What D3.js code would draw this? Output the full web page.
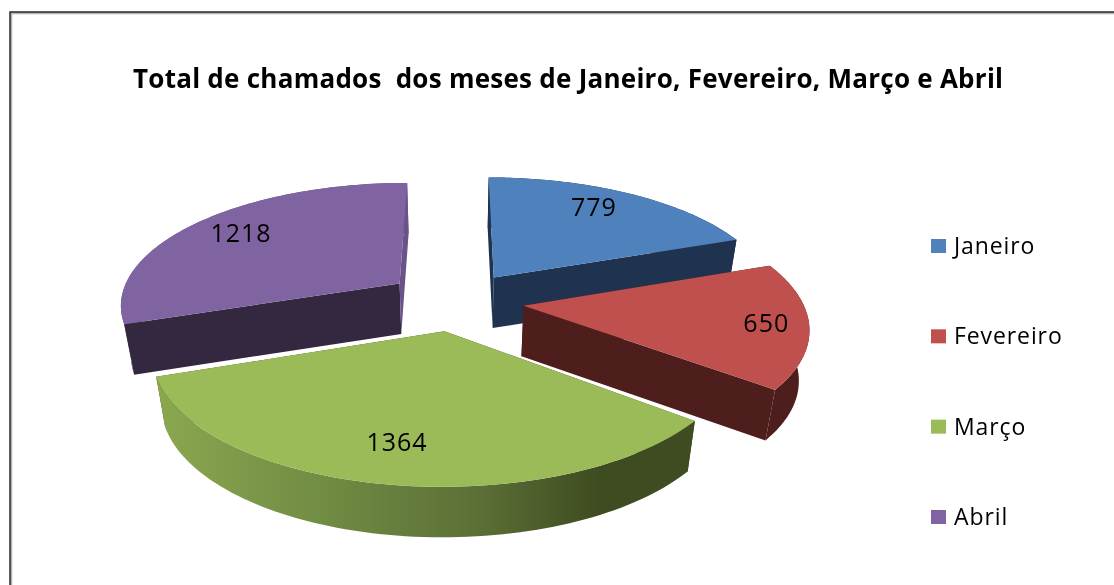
<!DOCTYPE html>
<html>
<head>
<meta charset="utf-8">
<script src="https://cdn.jsdelivr.net/npm/d3@7"></script>
<style>
  body { margin: 0; background: #fff; overflow: hidden; }
  svg { filter: blur(0.35px); }
  text { font-family: "Open Sans", sans-serif; fill: #000; }
</style>
</head>
<body>
<div id="chart"></div>
<script>
/* 3D exploded pie: total de chamados por mes */
const meses = ["Janeiro", "Fevereiro", "Março", "Abril"];
const chamados = [779, 650, 1364, 1218];

const topColors = ["#4F81BD", "#C0504D", "#9BBB59", "#8064A2"];
const wallColors = ["#1F3350", "#4E1E1D", "#3F4B20", "#33283F"];
const rimColors = ["#1F3350", "#4E1E1D", "url(#marco-side)", "#6A5388"];

// per slice tweaks of the drawing, the picture is not a true projection
const sliceRadius = [1, 0.985, 0.98, 0.99];
const sliceExplode = [0.24, 0.24, 0.24, 0.25];
const labelRadius = [0.82, 0.84, 0.74, 0.8];
const labelShift = [-13, 0, -5, 6];

const width = 1114,
  height = 585;

const cx = 456,
  cy = 301,
  radiusX = 283,
  radiusY = 123,
  perspective = 0.16,
  depth = 50.5,
  shrink = 0.03;

const color = d3.scaleOrdinal(meses, topColors);

// world x/y in pie radii (y toward the viewer), z from 0 (top) to 1 (bottom)
function project(x, y, z) {
  const s = 1 / (1 - perspective * y);
  return [
    cx + radiusX * x * s * (1 - shrink * z),
    cy + radiusY * y * s + depth * z
  ];
}

const arcs = d3.pie().sort(null).value(d => d)(chamados);

function pointAt(d, angle, r, z) {
  const mid = (d.startAngle + d.endAngle) / 2;
  const e = sliceExplode[d.index];
  return project(
    e * Math.sin(mid) + r * Math.sin(angle),
    -e * Math.cos(mid) - r * Math.cos(angle),
    z
  );
}

function rim(d, z) {
  const n = 80;
  const r = sliceRadius[d.index];
  return d3.range(n + 1).map(i =>
    pointAt(d, d.startAngle + (d.endAngle - d.startAngle) * i / n, r, z));
}

const line = d3.line();

const svg = d3.select("#chart")
  .append("svg")
  .attr("width", width)
  .attr("height", height);

const grad = svg.append("defs")
  .append("linearGradient")
  .attr("id", "marco-side")
  .attr("gradientUnits", "userSpaceOnUse")
  .attr("x1", 157).attr("x2", 690)
  .attr("y1", 0).attr("y2", 0);
grad.append("stop").attr("offset", "0%").attr("stop-color", "#8BA74F");
grad.append("stop").attr("offset", "30%").attr("stop-color", "#728D44");
grad.append("stop").attr("offset", "60%").attr("stop-color", "#5B7036");
grad.append("stop").attr("offset", "83%").attr("stop-color", "#3F4B20");
grad.append("stop").attr("offset", "100%").attr("stop-color", "#3F4B20");

// frame, open on the right and at the bottom
svg.append("rect")
  .attr("x", 11).attr("y", 13)
  .attr("width", width + 20).attr("height", height + 20)
  .attr("fill", "#fff")
  .attr("stroke", "#b4b4b4")
  .attr("stroke-width", 2.5);
svg.append("rect")
  .attr("x", 10).attr("y", 12)
  .attr("width", width + 20).attr("height", height + 20)
  .attr("fill", "none")
  .attr("stroke", "#2e2e2e")
  .attr("stroke-width", 1.5);

svg.append("text")
  .attr("x", 568)
  .attr("y", 88)
  .attr("text-anchor", "middle")
  .attr("font-size", 26)
  .attr("font-weight", "bold")
  .attr("textLength", 870)
  .attr("xml:space", "preserve")
  .style("white-space", "pre")
  .text("Total de chamados  dos meses de Janeiro, Fevereiro, Março e Abril");

// back slices first, Março last
const drawOrder = [3, 0, 1, 2];
const slices = svg.append("g")
  .selectAll("g")
  .data(drawOrder.map(i => arcs[i]))
  .join("g");

slices.each(function (d) {
  const g = d3.select(this);
  const i = d.index;
  const r = sliceRadius[i];

  const drawRim = () => g.append("path")
    .attr("fill", rimColors[i])
    .attr("d", line(rim(d, 0).concat(rim(d, 1).reverse())) + "Z");

  // Abril shows its cut face in front of the rim, the others behind it
  if (i === 3) drawRim();
  [d.startAngle, d.endAngle].forEach(angle => {
    g.append("path")
      .attr("fill", i === 3 && angle === d.endAngle ? rimColors[i] : wallColors[i])
      .attr("d", line([
        pointAt(d, 0, 0, 0), pointAt(d, angle, r, 0),
        pointAt(d, angle, r, 1), pointAt(d, 0, 0, 1)
      ]) + "Z");
  });
  if (i !== 3) drawRim();

  g.append("path")
    .attr("fill", color(meses[i]))
    .attr("d", line([pointAt(d, 0, 0, 0)].concat(rim(d, 0))) + "Z");
});

svg.append("g")
  .attr("font-size", 25)
  .attr("letter-spacing", 1)
  .attr("text-anchor", "middle")
  .selectAll("text")
  .data(arcs)
  .join("text")
  .attr("transform", d => {
    const mid = (d.startAngle + d.endAngle) / 2;
    const p = pointAt(d, mid, labelRadius[d.index], 0);
    return `translate(${p[0] + labelShift[d.index]},${p[1] + 9})`;
  })
  .text(d => d.value);

const legendY = d3.scalePoint().domain(meses).range([246, 517]);

const legend = svg.append("g")
  .selectAll("g")
  .data(meses)
  .join("g")
  .attr("transform", d => `translate(931,${legendY(d)})`);

legend.append("rect")
  .attr("y", -7)
  .attr("width", 15)
  .attr("height", 14)
  .attr("fill", d => color(d));

legend.append("text")
  .attr("x", 23)
  .attr("y", 8)
  .attr("font-size", 23)
  .attr("letter-spacing", 0.9)
  .text(d => d);
</script>
</body>
</html>
